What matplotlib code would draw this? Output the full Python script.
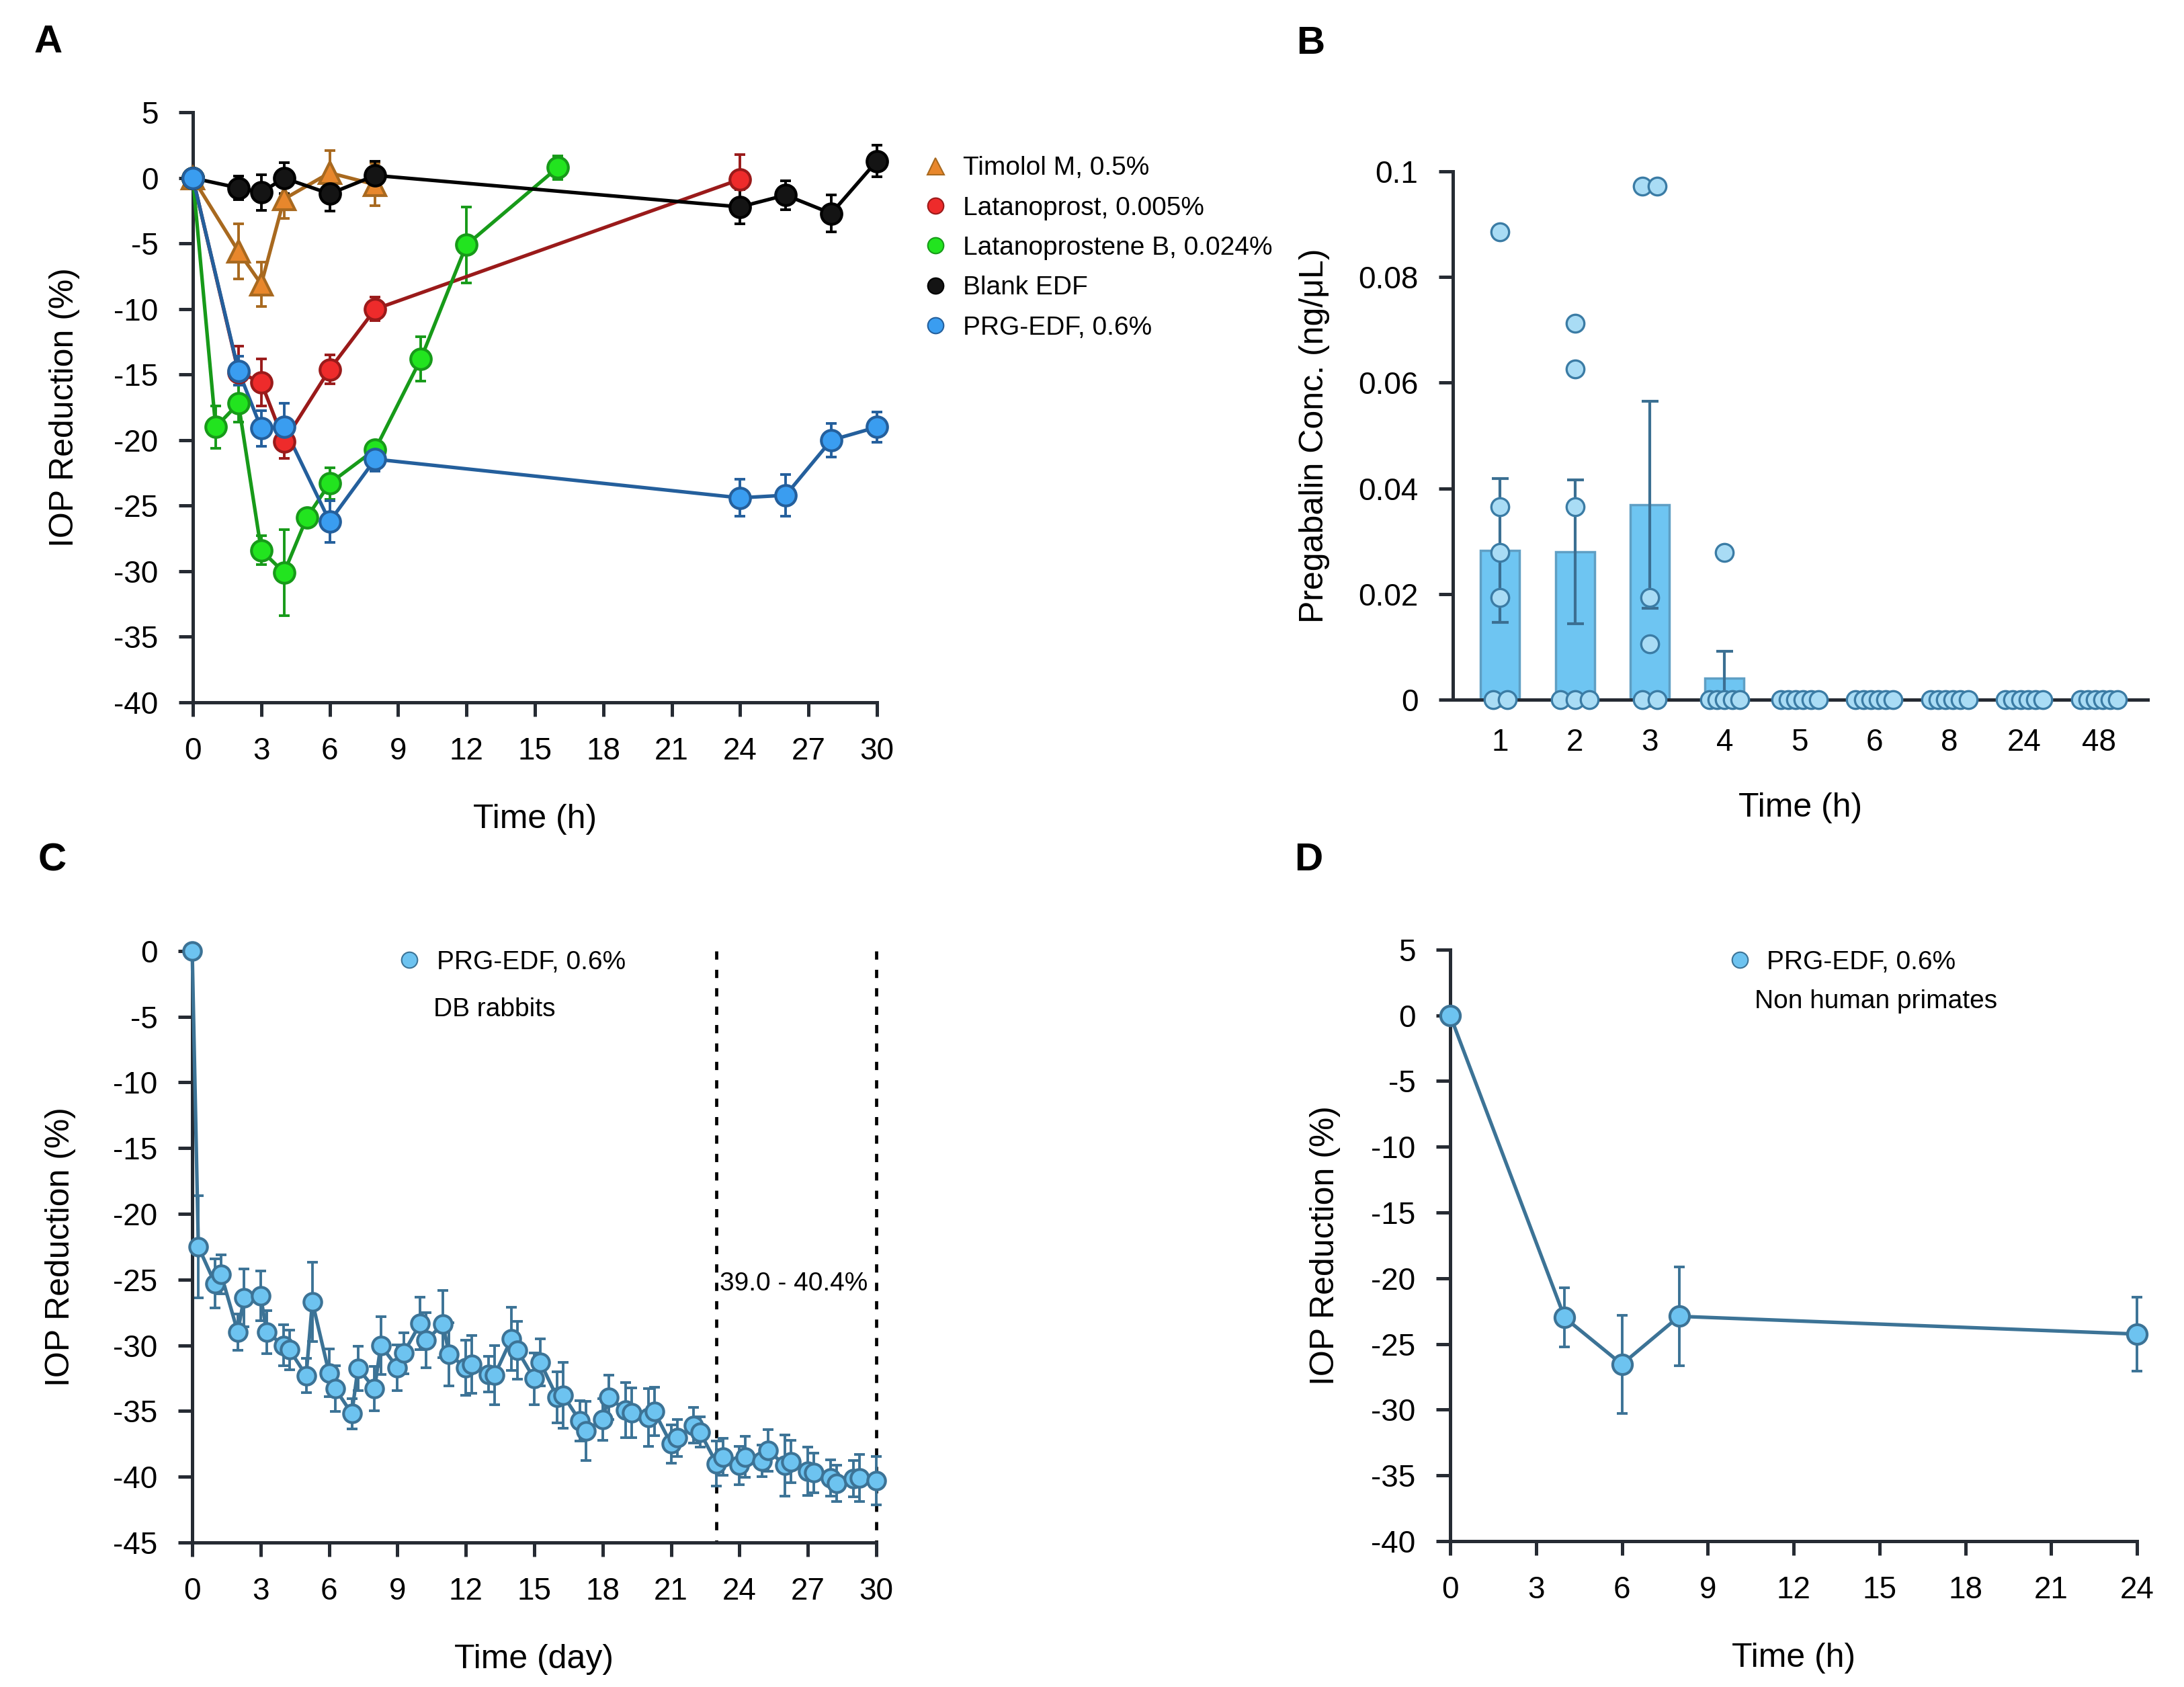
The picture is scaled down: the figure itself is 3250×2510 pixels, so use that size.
import numpy as np
import matplotlib
matplotlib.use("Agg")
from matplotlib import pyplot as plt
from matplotlib.lines import Line2D

plt.rcParams['font.family'] = ['Liberation Sans', 'DejaVu Sans']
plt.rcParams['axes.unicode_minus'] = False

# ---- panel A: IOP reduction over 30 h ----
timolol_t = [0, 2, 3, 4, 6, 8]
timolol_y = [0, -5.6, -8.1, -1.6, 0.4, -0.5]
timolol_e = [0, 2.1, 1.7, 1.5, 1.7, 1.6]

latan_t = [0, 2, 3, 4, 6, 8, 24]
latan_y = [0, -14.8, -15.6, -20.1, -14.6, -10.0, -0.1]
latan_e = [0, 2.0, 1.8, 1.3, 1.1, 0.9, 1.9]

latanb_t = [0, 1, 2, 3, 4, 5, 6, 8, 10, 12, 16]
latanb_y = [0, -19.0, -17.2, -28.4, -30.1, -25.9, -23.3, -20.7, -13.8, -5.1, 0.8]
latanb_e = [0, 1.6, 1.4, 1.1, 3.3, 0, 1.2, 0.5, 1.7, 2.9, 0.9]

blank_t = [0, 2, 3, 4, 6, 8, 24, 26, 28, 30]
blank_y = [0, -0.75, -1.1, 0.0, -1.2, 0.2, -2.2, -1.3, -2.7, 1.3]
blank_e = [0, 0.9, 1.35, 1.2, 1.3, 1.1, 1.3, 1.1, 1.4, 1.2]

prg_t = [0, 2, 3, 4, 6, 8, 24, 26, 28, 30]
prg_y = [0, -14.7, -19.1, -19.0, -26.2, -21.45, -24.4, -24.2, -20.0, -19.0]
prg_e = [0, 1.1, 1.35, 1.8, 1.6, 0.9, 1.4, 1.6, 1.3, 1.15]

# ---- panel B: pregabalin concentration ----
b_labels = ['1', '2', '3', '4', '5', '6', '8', '24', '48']
b_mean = [0.0282, 0.0280, 0.0369, 0.0041, 0, 0, 0, 0, 0]
b_sem = [0.0136, 0.0136, 0.0196, 0.0050, 0, 0, 0, 0, 0]
b_points = [
    [0.0886, 0.0365, 0.0279, 0.0193, 0, 0],
    [0.0713, 0.0626, 0.0365, 0, 0, 0],
    [0.0972, 0.0972, 0.0193, 0.0106, 0, 0],
    [0.0279, 0, 0, 0, 0, 0],
    [0, 0, 0, 0, 0, 0],
    [0, 0, 0, 0, 0, 0],
    [0, 0, 0, 0, 0, 0],
    [0, 0, 0, 0, 0, 0],
    [0, 0, 0, 0, 0, 0],
]

# ---- panel C: DB rabbits, 30 days ----
c_t = [0, 0.27, 1, 1.27, 2, 2.27, 3, 3.27, 4, 4.27, 5, 5.27, 6, 6.27, 7, 7.27,
       8, 8.27, 9, 9.27, 10, 10.27, 11, 11.27, 12, 12.27, 13, 13.27, 14, 14.27,
       15, 15.27, 16, 16.27, 17, 17.27, 18, 18.27, 19, 19.27, 20, 20.27, 21, 21.27,
       22, 22.27, 23, 23.27, 24, 24.27, 25, 25.27, 26, 26.27, 27, 27.27, 28, 28.27,
       29, 29.27, 30]
c_y = [0, -22.5, -25.3, -24.6, -29.0, -26.4, -26.25, -29.0, -30.0, -30.35, -32.3, -26.7,
       -32.1, -33.3, -35.2, -31.75, -33.3, -30.0, -31.7, -30.6, -28.35, -29.6, -28.4, -30.7,
       -31.7, -31.45, -32.2, -32.25, -29.5, -30.4, -32.55, -31.3, -33.95, -33.8, -35.75, -36.5,
       -35.65, -33.95, -34.95, -35.15, -35.5, -35.05, -37.5, -37.05, -36.1, -36.6, -39.0, -38.5,
       -39.15, -38.5, -38.8, -38.0, -39.15, -38.85, -39.6, -39.7, -40.1, -40.5, -40.15, -40.1,
       -40.3]
c_e = [0, 3.9, 1.85, 1.5, 1.4, 2.2, 1.9, 1.65, 1.55, 1.5, 1.3, 3.0,
       1.8, 1.75, 1.15, 1.7, 1.7, 2.2, 1.75, 1.55, 2.0, 2.1, 2.55, 2.4,
       2.1, 2.2, 1.35, 2.25, 2.4, 2.2, 1.95, 1.8, 1.95, 2.5, 1.55, 2.25,
       1.6, 1.7, 2.1, 1.9, 2.2, 1.85, 1.45, 1.4, 1.35, 1.15, 1.7, 1.4,
       1.45, 1.55, 1.2, 1.6, 2.35, 1.6, 1.85, 1.5, 1.4, 1.4, 1.4, 1.8,
       1.85]

# ---- panel D: non human primates ----
d_t = [0, 4, 6, 8, 24]
d_y = [0, -23.0, -26.55, -22.9, -24.25]
d_e = [0, 2.25, 3.75, 3.75, 2.8]

SPINE = '#262b33'
TICK_FS = 33
LABEL_FS = 36
LEG_FS = 28


def style_axes(ax):
    ax.spines['top'].set_visible(False)
    ax.spines['right'].set_visible(False)
    for s in ('left', 'bottom'):
        ax.spines[s].set_linewidth(3.6)
        ax.spines[s].set_color(SPINE)
    ax.tick_params(axis='both', direction='out', length=15, width=3.6,
                   color=SPINE, labelsize=TICK_FS, pad=22)


def err_line(ax, t, y, e, line, face, edge, marker='o', ms=22, lw=3.8):
    ax.errorbar(t, y, yerr=e, fmt='none', ecolor=line, elinewidth=2.8,
                capsize=5.5, capthick=2.8, zorder=2, clip_on=False)
    ax.plot(t, y, '-', color=line, lw=lw, zorder=3, clip_on=False)
    ax.plot(t, y, linestyle='none', marker=marker, ms=ms, mfc=face, mec=edge,
            mew=3.0, zorder=4, clip_on=False)


fig = plt.figure(figsize=(32.5, 25.1), dpi=100)

# ================= A =================
axA = fig.add_axes([0.0883, 0.5837, 0.3132, 0.3496])
err_line(axA, timolol_t, timolol_y, timolol_e, '#a8691f', '#e8872c', '#a8691f', marker='^', ms=23)
err_line(axA, latan_t, latan_y, latan_e, '#9a1a1a', '#ee2b2b', '#9a1a1a')
err_line(axA, latanb_t, latanb_y, latanb_e, '#179a19', '#22e41f', '#179a19')
err_line(axA, blank_t, blank_y, blank_e, '#000000', '#141414', '#000000')
err_line(axA, prg_t, prg_y, prg_e, '#245f9c', '#3a9df0', '#245f9c')
axA.set_xlim(0, 30)
axA.set_ylim(-40, 5)
axA.set_xticks(range(0, 31, 3))
axA.set_yticks(range(-40, 6, 5))
style_axes(axA)
axA.set_xlabel('Time (h)', fontsize=LABEL_FS, labelpad=40)
axA.set_ylabel('IOP Reduction (%)', fontsize=LABEL_FS, labelpad=36)

handles = [
    Line2D([], [], ls='none', marker='^', ms=18, mfc='#e8872c', mec='#a8691f', mew=1.5),
    Line2D([], [], ls='none', marker='o', ms=17, mfc='#ee2b2b', mec='#9a1a1a', mew=1.5),
    Line2D([], [], ls='none', marker='o', ms=17, mfc='#22e41f', mec='#179a19', mew=1.5),
    Line2D([], [], ls='none', marker='o', ms=17, mfc='#141414', mec='#000000', mew=1.5),
    Line2D([], [], ls='none', marker='o', ms=17, mfc='#3a9df0', mec='#245f9c', mew=1.5),
]
names = ['Timolol M, 0.5%', 'Latanoprost, 0.005%', 'Latanoprostene B, 0.024%',
         'Blank EDF', 'PRG-EDF, 0.6%']
fig.legend(handles, names, loc='upper left', bbox_to_anchor=(0.4223, 0.9075),
           frameon=False, fontsize=LEG_FS, handlelength=1.0, handletextpad=0.55,
           labelspacing=0.6, borderpad=0, borderaxespad=0)

# ================= B =================
axB = fig.add_axes([0.6652, 0.5853, 0.3182, 0.3131])
xb = np.arange(1, len(b_labels) + 1)
axB.bar(xb, b_mean, width=0.52, color='#6ec5f2', edgecolor='#5f9fc4',
        linewidth=2.5, zorder=2)
axB.errorbar(xb, b_mean, yerr=b_sem, fmt='none', ecolor='#3b6f92',
             elinewidth=3.0, capsize=9, capthick=3.0, zorder=3)
for i, pts in enumerate(b_points):
    # spread identical values side by side
    vals = sorted(set(pts), reverse=True)
    for v in vals:
        n = pts.count(v)
        step = 0.19 if n <= 3 else 0.1
        offs = (np.arange(n) - (n - 1) / 2) * step
        axB.plot(xb[i] + offs, [v] * n, ls='none', marker='o', ms=19,
                 mfc='#a9dcf5', mec='#3b7ca5', mew=2.4, zorder=4, clip_on=False)
axB.set_xlim(0.37, 9.65)
axB.set_ylim(0, 0.1)
axB.set_xticks(xb)
axB.set_xticklabels(b_labels)
axB.set_yticks([0, 0.02, 0.04, 0.06, 0.08, 0.1])
axB.set_yticklabels(['0', '0.02', '0.04', '0.06', '0.08', '0.1'])
style_axes(axB)
axB.tick_params(axis='x', length=8)
axB.set_xlabel('Time (h)', fontsize=LABEL_FS, labelpad=38)
axB.set_ylabel('Pregabalin Conc. (ng/μL)', fontsize=LABEL_FS, labelpad=30)

# ================= C =================
axC = fig.add_axes([0.088, 0.0857, 0.3132, 0.3506])
err_line(axC, c_t, c_y, c_e, '#3c7396', '#6dc3f0', '#3c7396', ms=19, lw=3.8)
for xv in (23, 30):
    axC.plot([xv, xv], [0, -45], color='black', lw=3.4,
             linestyle=(0, (2.6, 3.2)), zorder=1, clip_on=False)
axC.set_xlim(0, 30)
axC.set_ylim(-45, 0)
axC.set_xticks(range(0, 31, 3))
axC.set_yticks(range(-45, 1, 5))
style_axes(axC)
axC.set_xlabel('Time (day)', fontsize=LABEL_FS, labelpad=40)
axC.set_ylabel('IOP Reduction (%)', fontsize=LABEL_FS, labelpad=40)
axC.text(23.15, -25.3, '39.0 - 40.4%', fontsize=LEG_FS, ha='left', va='center')
hC = Line2D([], [], ls='none', marker='o', ms=17, mfc='#6dc3f0', mec='#3c7396', mew=1.5)
fig.legend([hC], ['PRG-EDF, 0.6%'], loc='upper left', bbox_to_anchor=(0.1813, 0.4368),
           frameon=False, fontsize=LEG_FS, handlelength=1.0, handletextpad=0.55,
           borderpad=0, borderaxespad=0)
fig.text(645 / 3250, 1 - 1502 / 2510, 'DB rabbits', fontsize=LEG_FS, ha='left', va='center')

# ================= D =================
axD = fig.add_axes([0.664, 0.0865, 0.3145, 0.3506])
err_line(axD, d_t, d_y, d_e, '#3c7396', '#6dc3f0', '#3c7396', ms=21, lw=3.8)
axD.set_xlim(0, 24)
axD.set_ylim(-40, 5)
axD.set_xticks(range(0, 25, 3))
axD.set_yticks(range(-40, 6, 5))
style_axes(axD)
axD.set_xlabel('Time (h)', fontsize=LABEL_FS, labelpad=40)
axD.set_ylabel('IOP Reduction (%)', fontsize=LABEL_FS, labelpad=33)
hD = Line2D([], [], ls='none', marker='o', ms=17, mfc='#6dc3f0', mec='#3c7396', mew=1.5)
fig.legend([hD], ['PRG-EDF, 0.6%'], loc='upper left', bbox_to_anchor=(0.7905, 0.4368),
           frameon=False, fontsize=LEG_FS, handlelength=1.0, handletextpad=0.55,
           borderpad=0, borderaxespad=0)
fig.text(2611 / 3250, 1 - 1490 / 2510, 'Non human primates', fontsize=LEG_FS,
         ha='left', va='center')

# panel letters
for letter, x, y in [('A', 0.022, 0.975), ('B', 0.6, 0.974),
                     ('C', 0.024, 0.49), ('D', 0.599, 0.49)]:
    fig.text(x, y, letter, fontsize=42, fontweight='bold', ha='center', va='center')

fig.savefig('out.png', dpi=100, facecolor='white')
